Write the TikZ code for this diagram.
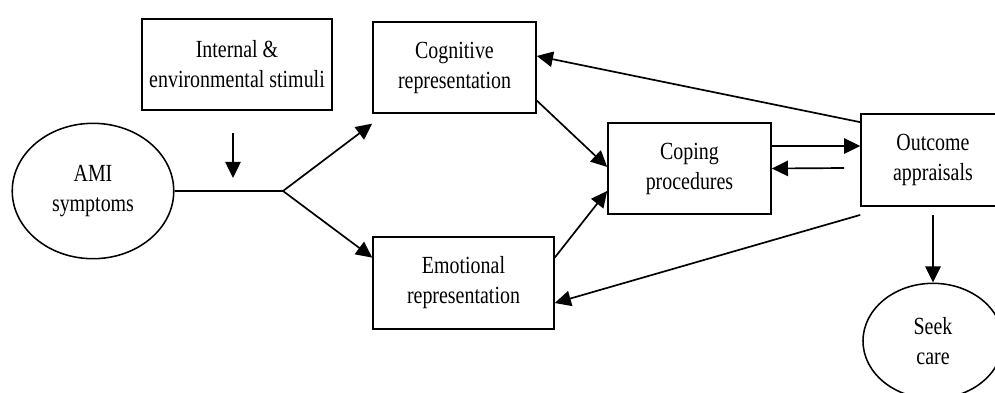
\documentclass[tikz,border=0pt]{standalone}
\usepackage{fontspec}
\setmainfont{Liberation Serif}[FakeStretch=0.81]
\usepackage{tikz}
\usetikzlibrary{arrows.meta}
\usetikzlibrary{shapes.geometric}

\begin{document}
\begin{tikzpicture}[x=0.65pt, y=-0.65pt, font=\fontsize{16}{19.5}\selectfont,
        box/.style={draw, line width=1pt, rectangle, align=center, inner sep=0pt},
        oval/.style={draw, line width=1pt, ellipse, align=center, inner sep=0pt},
        link/.style={line width=1.1pt},
        >={Triangle[length=10.5pt, width=10pt]}]
        \useasboundingbox (0,0) rectangle (995,392);

        \node[oval, minimum width=105pt, minimum height=88pt] (ami) at (93,191) {AMI\\symptoms};
        \node[box, minimum width=123.5pt, minimum height=59pt] (stim) at (237,64.5) {Internal \&\\environmental stimuli};
        \node[box, minimum width=106pt, minimum height=59pt] (cog) at (454.5,67.5) {Cognitive\\representation};
        \node[box, minimum width=117.6pt, minimum height=60pt] (emo) at (463.5,283) {Emotional\\representation};
        \node[box, minimum width=106pt, minimum height=59pt] (cope) at (689.5,168.5) {Coping\\procedures};
        \node[box, minimum width=93.6pt, minimum height=60pt] (outc) at (933,160) {Outcome\\appraisals};
        \node[oval, minimum width=91pt, minimum height=75pt] (seek) at (933,341) {Seek\\care};

        \coordinate (split) at (283,191);
        \coordinate (stimtop) at (233,133);
        \coordinate (stimend) at (233,178);
        \coordinate (back) at (844,168);

        \draw[link] (ami.east) -- (split);
        \draw[link, ->] (stimtop) -- (stimend);
        \draw[link, ->] (split) -- ([yshift=-6.5pt]cog.south west);
        \draw[link, ->] (split) -- ([yshift=-14pt]emo.north west);
        \draw[link, ->] ([yshift=8.5pt]cog.south east) -- ([yshift=1pt]cope.west);
        \draw[link, ->] ([yshift=-14pt]emo.north east) -- ([yshift=-14.6pt]cope.west);
        \draw[link, ->] ([yshift=14.6pt]cope.east) -- ([yshift=9.1pt]outc.west);
        \draw[link, ->] (back) -- (cope.east);
        \draw[link, ->] ([yshift=-5.9pt]outc.north west) -- ([yshift=7.5pt]cog.east);
        \draw[link, ->] ([yshift=-5.2pt]outc.south west) -- ([yshift=-13pt]emo.east);
        \draw[link, ->] ([yshift=-5.2pt]outc.south) -- (seek.north);
\end{tikzpicture}
\end{document}
